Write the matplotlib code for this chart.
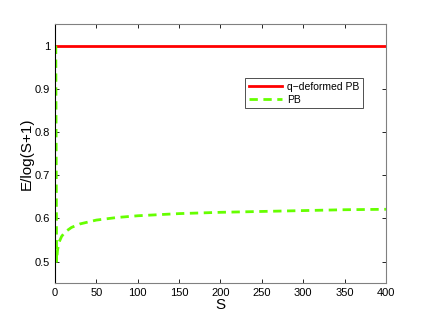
import matplotlib.pyplot as plt
import numpy as np

plt.rcParams['font.family'] = ['Liberation Sans', 'DejaVu Sans']

# q-deformed PB is flat at 1
s_q = [0, 400]
e_q = [1.0, 1.0]

# PB curve
s_pb = [1, 2, 3, 5, 8, 12, 20, 30, 50, 75, 100, 150, 200, 250, 300, 350, 400]
e_pb = [1.0, 0.5, 0.525, 0.545, 0.558, 0.568, 0.579, 0.587, 0.596, 0.602, 0.606,
        0.611, 0.614, 0.616, 0.618, 0.620, 0.621]

fig = plt.figure(figsize=(4.26, 3.21), dpi=100)
ax = fig.add_axes([0.129, 0.118, 0.777, 0.807])

ax.plot(s_q, e_q, color='#ff0000', lw=2, label='q\u2212deformed PB')
ax.plot(s_pb, e_pb, color='#66ff00', lw=2, ls=(0, (3, 2)), label='PB')

ax.set_xlim(0, 400)
ax.set_ylim(0.45, 1.05)
ax.set_xticks(np.arange(0, 401, 50))
ax.set_yticks([0.5, 0.6, 0.7, 0.8, 0.9, 1.0])
ax.set_yticklabels(['0.5', '0.6', '0.7', '0.8', '0.9', '1'])
ax.tick_params(direction='in', top=True, right=True, labelsize=8, length=3, width=0.6)
for side in ['top', 'right', 'bottom']:
    ax.spines[side].set_color('#808080')
ax.spines['left'].set_color('black')
for sp in ax.spines.values():
    sp.set_linewidth(0.8)

ax.set_xlabel('S', fontsize=11, labelpad=0)
ax.set_ylabel('E/log(S+1)', fontsize=11, labelpad=1)

leg = ax.legend(loc='upper left', bbox_to_anchor=(0.574, 0.79), fontsize=7.5,
                frameon=True, fancybox=False, borderaxespad=0, handlelength=3.2,
                borderpad=0.35, labelspacing=0.25, handletextpad=0.5)
leg.get_frame().set_edgecolor('black')
leg.get_frame().set_linewidth(0.6)

fig.savefig('out.png', dpi=100)
